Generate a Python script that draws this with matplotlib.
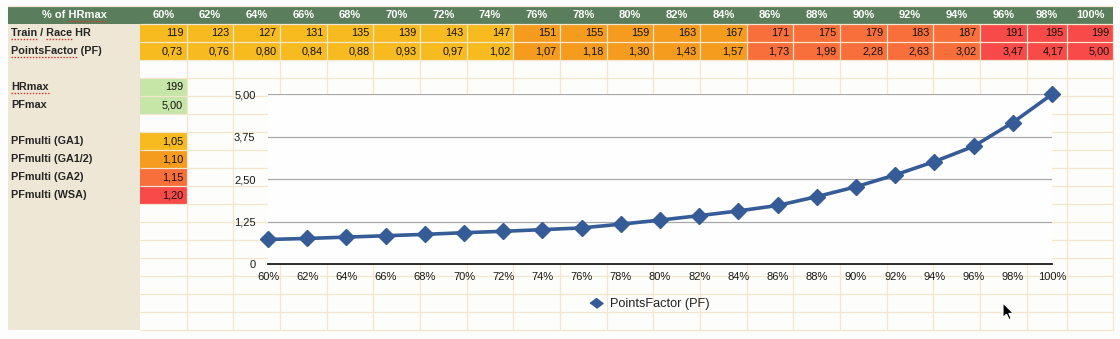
import matplotlib
matplotlib.use('Agg')
import matplotlib.pyplot as plt
from matplotlib.patches import Rectangle, Polygon

# ---------------- data ----------------
pct_labels = ['60%', '62%', '64%', '66%', '68%', '70%', '72%', '74%', '76%', '78%', '80%',
              '82%', '84%', '86%', '88%', '90%', '92%', '94%', '96%', '98%', '100%']
hr_values = [119, 123, 127, 131, 135, 139, 143, 147, 151, 155, 159,
             163, 167, 171, 175, 179, 183, 187, 191, 195, 199]
pf_values = [0.73, 0.76, 0.80, 0.84, 0.88, 0.93, 0.97, 1.02, 1.07, 1.18, 1.30,
             1.43, 1.57, 1.73, 1.99, 2.28, 2.63, 3.02, 3.47, 4.17, 5.00]
col_tier = [0, 0, 0, 0, 0, 0, 0, 0, 1, 1, 1, 1, 1, 2, 2, 2, 2, 2, 3, 3, 3]
hrmax_value = 199
pfmax_value = 5.00
pfmulti_labels = ['PFmulti (GA1)', 'PFmulti (GA1/2)', 'PFmulti (GA2)', 'PFmulti (WSA)']
pfmulti_values = [1.05, 1.10, 1.15, 1.20]
y_ticks = [0, 1.25, 2.50, 3.75, 5.00]

# ---------------- style ----------------
tier_colors = ['#f7bb1f', '#f59b1e', '#f86f3b', '#f84a48']
green_hdr = '#5a7e5b'
green_cell = '#c6e6a8'
beige = '#efe7d6'
grid_col = '#f4e6cc'
line_col = '#355c96'
txt_col = '#262626'
FONT = 'Liberation Sans'
plt.rcParams['font.family'] = [FONT, 'DejaVu Sans']


def fmt2(v):
    return f"{v:.2f}".replace('.', ',')


W, H = 1120, 339
fig = plt.figure(figsize=(W / 100, H / 100), dpi=100)
fig.patch.set_facecolor('#fdfdfd')
bg = fig.add_axes([0, 0, 1, 1])
bg.set_xlim(0, W)
bg.set_ylim(H, 0)
bg.axis('off')

X0, XL = 8, 140
col_widths = [46.67] * 19 + [40.3, 46.0]
col_edges = [XL]
for w in col_widths:
    col_edges.append(col_edges[-1] + w)
XR = col_edges[-1]
Y0, RH = 6, 18
NROWS = 18


def col_left(i):
    return col_edges[i]


def col_right(i):
    return col_edges[i + 1]


def row_top(r):
    return Y0 + r * RH


# sheet background
bg.add_patch(Rectangle((X0, Y0), XR - X0, row_top(NROWS) - Y0, fc='#fdfdfb', ec='none'))
bg.add_patch(Rectangle((X0, Y0), XL - X0, row_top(NROWS) - Y0, fc=beige, ec='none'))
bg.add_patch(Rectangle((X0, Y0), XR - X0, RH, fc=green_hdr, ec='none'))

# colored data cells
for i in range(len(pct_labels)):
    c = tier_colors[col_tier[i]]
    for r in (1, 2):
        bg.add_patch(Rectangle((col_left(i), row_top(r)), col_right(i) - col_left(i), RH,
                               fc=c, ec='none'))
bg.add_patch(Rectangle((col_left(0), row_top(4)), col_widths[0], RH, fc=green_cell, ec='none'))
bg.add_patch(Rectangle((col_left(0), row_top(5)), col_widths[0], RH, fc=green_cell, ec='none'))
for k in range(len(pfmulti_values)):
    bg.add_patch(Rectangle((col_left(0), row_top(7 + k)), col_widths[0], RH,
                           fc=tier_colors[k], ec='none'))

# grid lines
for r in range(1, NROWS + 1):
    bg.plot([XL, XR], [row_top(r), row_top(r)], color=grid_col, lw=0.9, solid_capstyle='butt')
for i in range(1, len(col_edges)):
    x = col_edges[i]
    bg.plot([x, x], [row_top(1), row_top(NROWS)], color=grid_col, lw=0.9, solid_capstyle='butt')
bg.plot([X0, XR], [Y0 - 0.5, Y0 - 0.5], color=grid_col, lw=0.9)

# texts
fs = 7.8
hdr_kw = dict(color='white', fontsize=8, fontweight='bold', va='center')
bg.text((X0 + XL) / 2, row_top(0) + RH / 2, '% of HRmax', ha='center', **hdr_kw)
for i, lab in enumerate(pct_labels):
    bg.text((col_left(i) + col_right(i)) / 2, row_top(0) + RH / 2, lab, ha='center', **hdr_kw)

lab_kw = dict(color=txt_col, fontsize=fs, fontweight='bold', va='center', ha='left')
row_labels = {1: 'Train / Race HR', 2: 'PointsFactor (PF)', 4: 'HRmax', 5: 'PFmax'}
for k, lab in enumerate(pfmulti_labels):
    row_labels[7 + k] = lab
for r, lab in row_labels.items():
    bg.text(11, row_top(r) + RH / 2 + 0.5, lab, **lab_kw)

num_kw = dict(color='#111111', fontsize=fs, va='center', ha='right')
for i in range(len(pct_labels)):
    xr = col_right(i) - 3.5
    bg.text(xr, row_top(1) + RH / 2 + 0.5, str(hr_values[i]), **num_kw)
    bg.text(xr, row_top(2) + RH / 2 + 0.5, fmt2(pf_values[i]), **num_kw)
bg.text(col_right(0) - 3.5, row_top(4) + RH / 2 + 0.5, str(hrmax_value), **num_kw)
bg.text(col_right(0) - 3.5, row_top(5) + RH / 2 + 0.5, fmt2(pfmax_value), **num_kw)
for k, v in enumerate(pfmulti_values):
    bg.text(col_right(0) - 3.5, row_top(7 + k) + RH / 2 + 0.5, fmt2(v), **num_kw)

# spell-check underlines
fig.canvas.draw()
rend = fig.canvas.get_renderer()


def text_w(s, **kw):
    t = bg.text(0, 0, s, **kw)
    w = t.get_window_extent(rend).width
    t.remove()
    return w


def squiggle(x, yc, s, word, kw):
    i = s.index(word)
    end = x + text_w(s[:i + len(word)], **kw)
    start = end - text_w(word, **kw)
    bg.plot([start, end], [yc + 6, yc + 6], color='#e0302a', lw=1.0, ls=(0, (1, 1.2)))


hk = dict(fontsize=8, fontweight='bold')
w_hdr = text_w('% of HRmax', **hk)
squiggle((X0 + XL) / 2 - w_hdr / 2, row_top(0) + RH / 2, '% of HRmax', 'HRmax', hk)
lk = dict(fontsize=fs, fontweight='bold')
squiggle(11, row_top(1) + RH / 2, 'Train / Race HR', 'Train', lk)
squiggle(11, row_top(1) + RH / 2, 'Train / Race HR', 'Race', lk)
squiggle(11, row_top(2) + RH / 2, 'PointsFactor (PF)', 'PointsFactor', lk)
squiggle(11, row_top(4) + RH / 2, 'HRmax', 'HRmax', lk)

# legend (chart's own legend, drawn in sheet space below the plot)
legend_marker = [(-1, 0), (0, 0.75), (1, 0), (0, -0.75)]
bg.plot([596], [303], marker=legend_marker, ms=9.4, color=line_col, ls='none')
bg.text(610.5, 303.5, 'PointsFactor (PF)', fontsize=9.15, color='#222222', va='center', ha='left')

# mouse cursor
cx, cy = 1003.0, 303.0
cursor = [(0, 0), (0, 14.5), (3.5, 11.2), (6.0, 16.5), (8.2, 15.5), (5.8, 10.4), (10.4, 10.4)]
bg.add_patch(Polygon([(cx + a, cy + b) for a, b in cursor], closed=True, fc='black',
                     ec='white', lw=0.8, zorder=10))

# ---------------- chart ----------------
PL, PR, PT, PB = 268, 1052, 94.3, 264.3
ax = fig.add_axes([PL / W, (H - PB) / H, (PR - PL) / W, (PB - PT) / H], zorder=5)
ax.set_facecolor('#fefefe')
xs = list(range(len(pct_labels)))
ax.plot(xs, pf_values, color=line_col, lw=2.6, marker='D', ms=8.6, mec=line_col,
        mfc=line_col, clip_on=False, zorder=5)
ax.set_xlim(0, len(pct_labels) - 1)
ax.set_ylim(0, 5)
for s in ('top', 'right', 'left'):
    ax.spines[s].set_visible(False)
ax.spines['bottom'].set_color('#1a1a1a')
ax.spines['bottom'].set_linewidth(1.3)
ax.set_yticks(y_ticks)
ax.set_yticklabels(['0' if v == 0 else fmt2(v) for v in y_ticks])
ax.set_xticks(xs)
ax.set_xticklabels(pct_labels)
ax.tick_params(axis='both', length=0, labelsize=8, colors='#1a1a1a')
ax.tick_params(axis='y', pad=9)
ax.tick_params(axis='x', pad=5.5)
for v in y_ticks[1:]:
    ax.axhline(v, color='#a8a8a8', lw=0.9, zorder=1)

fig.savefig('out.png', dpi=100, facecolor=fig.get_facecolor())
